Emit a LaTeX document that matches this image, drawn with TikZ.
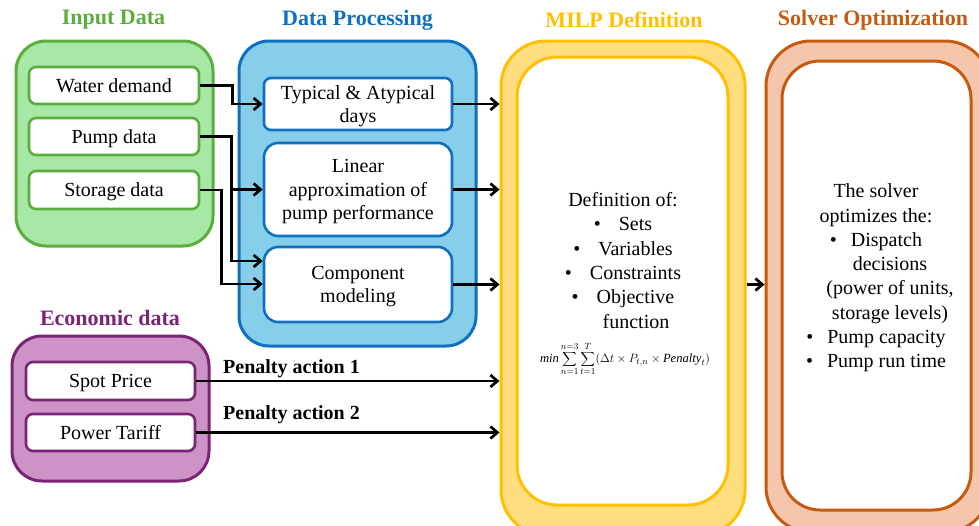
\documentclass[tikz,border=0pt]{standalone}
\usepackage{fontspec}
\setmainfont{Liberation Serif}
\usetikzlibrary{arrows.meta}

\definecolor{grnfill}{HTML}{A7E8A7}
\definecolor{grnline}{HTML}{5AAE3C}
\definecolor{bluefill}{HTML}{87CEEB}
\definecolor{blueline}{HTML}{1070C0}
\definecolor{yelfill}{HTML}{FFDE80}
\definecolor{yelline}{HTML}{FFC000}
\definecolor{pchfill}{HTML}{F6C6AC}
\definecolor{pchline}{HTML}{C55A11}
\definecolor{purfill}{HTML}{CD92C6}
\definecolor{purline}{HTML}{7B2374}

\tikzset{
  outerbox/.style={draw, line width=3pt, rounded corners=30pt, inner sep=0pt},
  itembox/.style={draw, fill=white, line width=2.6pt, rounded corners=7pt,
    align=center, inner sep=0pt, text depth=0pt, font=\fontsize{20}{23.5}\selectfont},
  grouptitle/.style={font=\fontsize{22}{26}\selectfont\bfseries},
  arr/.style={line width=2.7pt, -{Straight Barb[length=7pt,width=12pt,line width=2.7pt]}},
  bodytext/.style={align=center, inner sep=0pt, font=\fontsize{20}{24.3}\selectfont},
  penlabel/.style={font=\fontsize{20}{24}\selectfont\bfseries, anchor=south west, inner sep=0pt}
}

\begin{document}
\begin{tikzpicture}[x=1pt,y=-1pt]
\useasboundingbox (0,0) rectangle (979,525);
\clip (0,0) rectangle (979,525);

% group titles
\node[grouptitle, text=grnline]  (tinput)  at (113.5,20) {Input Data};
\node[grouptitle, text=blueline] (tproc)   at (357.5,20) {Data Processing};
\node[grouptitle, text=yelline]  (tmilp)   at (624,20)   {MILP Definition};
\node[grouptitle, text=pchline]  (tsolver) at (873,20)   {Solver Optimization};
\node[grouptitle, text=purline]  (tecon)   at (110,318)  {Economic data};

% outer containers
\node[outerbox, fill=grnfill, draw=grnline, minimum width=197pt, minimum height=205pt] (input) at (114.5,143.5) {};
\node[outerbox, fill=bluefill, draw=blueline, minimum width=237pt, minimum height=305pt] (proc) at (357.5,193.5) {};
\node[outerbox, fill=purfill, draw=purline, minimum width=197pt, minimum height=145pt] (econ) at (110.5,408.5) {};
\node[outerbox, fill=yelfill, draw=yelline, rounded corners=45pt, minimum width=244pt, minimum height=494pt] (milp) at (623,288) {};
\node[outerbox, fill=white, draw=yelline, rounded corners=40pt, minimum width=211pt, minimum height=448pt] (milpin) at (622.5,281) {};
\node[outerbox, fill=pchfill, draw=pchline, rounded corners=45pt, minimum width=224pt, minimum height=491pt] (solver) at (878,286.5) {};
\node[outerbox, fill=white, draw=pchline, rounded corners=38pt, minimum width=189pt, minimum height=449pt] (solverin) at (876.5,285.5) {};

% input items
\node[itembox, draw=grnline, minimum width=170pt, minimum height=37pt] (water)   at (114,85.5) {Water demand};
\node[itembox, draw=grnline, minimum width=170pt, minimum height=37pt] (pump)    at (114,136.5) {Pump data};
\node[itembox, draw=grnline, minimum width=170pt, minimum height=38pt] (storage) at (114,190) {Storage data};

% processing items
\node[itembox, draw=blueline, minimum width=188pt, minimum height=52pt] (typical) at (358,104) {Typical \& Atypical\\days};
\node[itembox, draw=blueline, rounded corners=14pt, minimum width=188pt, minimum height=93pt] (linear) at (358,189.5) {Linear\\approximation of\\pump performance};
\node[itembox, draw=blueline, rounded corners=14pt, minimum width=188pt, minimum height=75pt] (component) at (358,284.5) {Component\\modeling};

% economic items
\node[itembox, draw=purline, minimum width=169pt, minimum height=38pt] (spot)   at (110.5,381) {Spot Price};
\node[itembox, draw=purline, minimum width=169pt, minimum height=37pt] (tariff) at (110.5,432.5) {Power Tariff};

% MILP contents
\node[bodytext] (milptext) at (623,260.5) {Definition of:\\
  \textbullet\hspace{18pt}Sets\\
  \textbullet\hspace{18pt}Variables\\
  \textbullet\hspace{18pt}Constraints\\
  \textbullet\hspace{18pt}Objective\\
  \hspace*{26pt}function};
\node[font=\fontsize{12.6}{14}\selectfont, inner sep=0pt] (objective) at (625,359)
  {$\displaystyle \mathit{min}\sum_{n=1}^{n=3}\sum_{t=1}^{T}(\Delta t\times P_{t,n}\times \mathit{Penalty}_{t})$};

% solver contents
\node[bodytext] (solvertext) at (876,278) {The solver\\
  optimizes the:\\
  \textbullet\hspace{14pt}Dispatch\\
  \hspace*{28pt}decisions\\
  \hspace*{28pt}(power of units,\\
  \hspace*{28pt}storage levels)\\
  \textbullet\hspace{14pt}Pump capacity\\
  \textbullet\hspace{14pt}Pump run time};

% input to processing
\draw[arr] (water.east) -- ++(32,0) |- (typical.west);
\draw[arr] (pump.east) -- ++(31,0) |- (linear.west);
\draw[arr] (pump.east) ++(31,0) |- ([yshift=23.5pt]component.west);
\draw[arr] (storage.east) -- ++(21,0) |- ([yshift=0.5pt]component.west);

% processing to MILP
\draw[arr] (typical.east) -- (typical.east -| milp.west);
\draw[arr] (linear.east) -- (linear.east -| milp.west);
\draw[arr] (component.east) -- (component.east -| milp.west);

% economic data to MILP
\draw[arr] (spot.east) -- (spot.east -| milp.west);
\draw[arr] (tariff.east) -- (tariff.east -| milp.west);
\node[penlabel] (pen1) at (223,378) {Penalty action 1};
\node[penlabel] (pen2) at (223,424) {Penalty action 2};

% MILP to solver
\draw[arr] (milp.east |- component.east) -- (solver.west |- component.east);
\end{tikzpicture}
\end{document}
